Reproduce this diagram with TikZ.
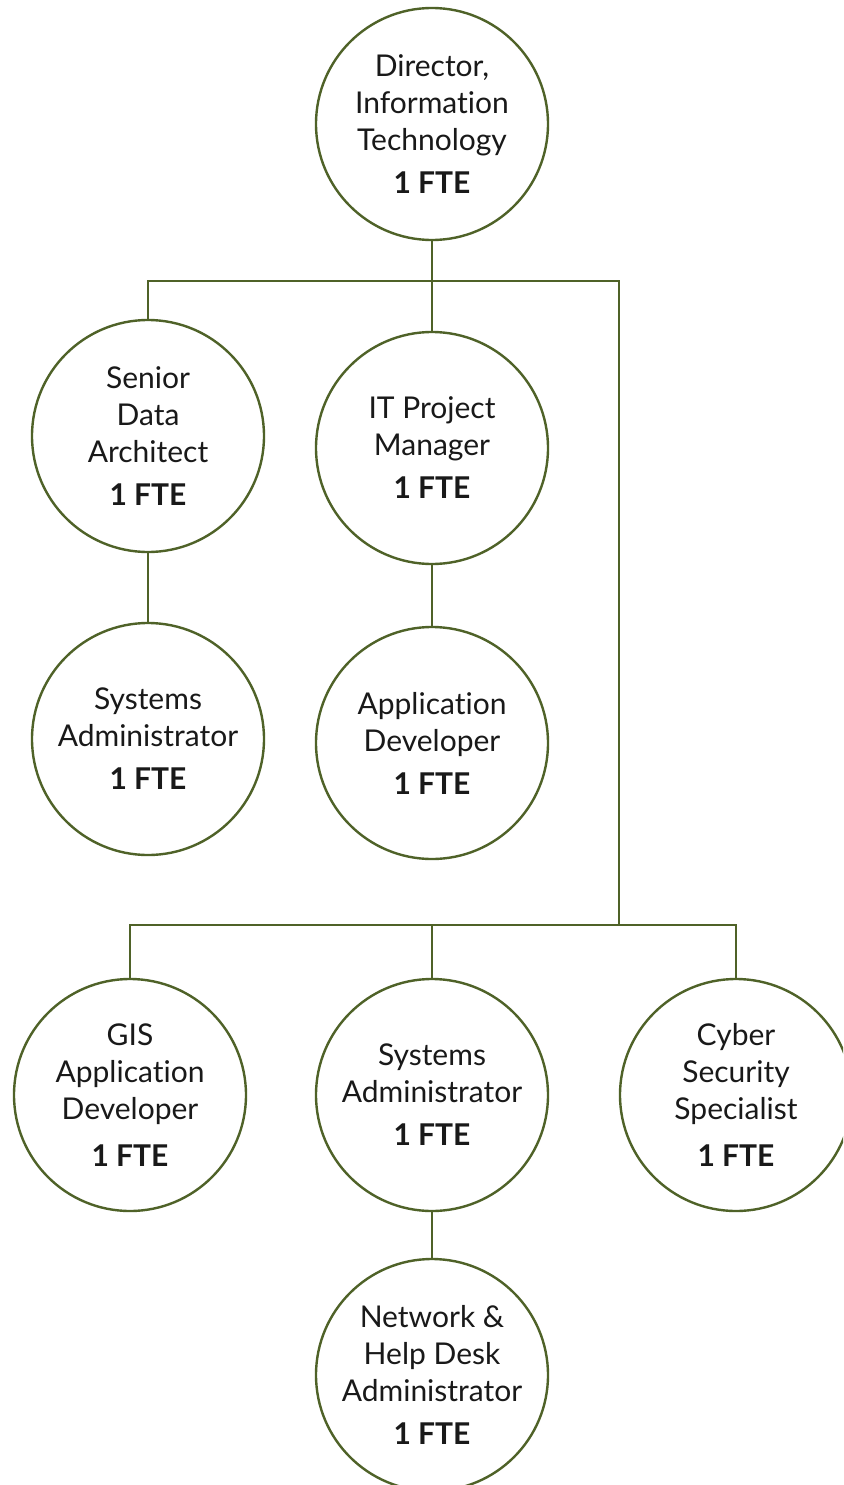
\documentclass[tikz,border=0pt]{standalone}
\usepackage{fontspec}
\setmainfont{Lato}[Ligatures=NoCommon]
\usepackage{tikz}
\definecolor{olivedark}{RGB}{79,98,40}
\tikzstyle{post} = [circle, draw=olivedark, line width=2.4pt, minimum size=232pt, inner sep=-14pt, align=center, text=black!90, font=\fontsize{30}{37}\selectfont]
\tikzstyle{link} = [draw=olivedark, line width=2.4pt]

\begin{document}
\begin{tikzpicture}[x=1pt, y=-1pt]
\clip (0,0) rectangle (843,1485);
\fill[white] (0,0) rectangle (843,1485);

% Director on top
\node[post] (dir) at (432,124) {Director,\\Information\\Technology\\[6pt]\textbf{1 FTE}};

% First level
\node[post] (sda) at (148,436) {Senior\\Data\\Architect\\[6pt]\textbf{1 FTE}};
\node[post] (itpm) at (432,448) {IT Project\\Manager\\[6pt]\textbf{1 FTE}};
\node[post] (sysa) at (148,739) {Systems\\Administrator\\[6pt]\textbf{1 FTE}};
\node[post] (appdev) at (432,743) {Application\\Developer\\[6pt]\textbf{1 FTE}};

% Second branch
\node[post] (gis) at (130,1095) {GIS\\Application\\Developer\\[10pt]\textbf{1 FTE}};
\node[post] (sysb) at (432,1095) {Systems\\Administrator\\[6pt]\textbf{1 FTE}};
\node[post] (cyber) at (736,1095) {Cyber\\Security\\Specialist\\[10pt]\textbf{1 FTE}};
\node[post] (net) at (432,1375) {Network \&\\Help Desk\\Administrator\\[6pt]\textbf{1 FTE}};

% Bus corners
\coordinate (busa) at (619,281);
\coordinate (busb) at (619,925);

% Connectors
\draw[link] (dir.south) -- (itpm.north);
\draw[link] (sda.north) |- (busa) -- (busb);
\draw[link] (sda.south) -- (sysa.north);
\draw[link] (itpm.south) -- (appdev.north);
\draw[link] (gis.north) |- (busb) -| (cyber.north);
\draw[link] (sysb.north) -- (sysb.north |- busb);
\draw[link] (sysb.south) -- (net.north);
\end{tikzpicture}
\end{document}
